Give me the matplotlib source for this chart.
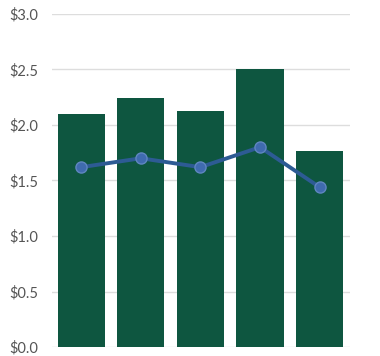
import matplotlib
matplotlib.use("Agg")
import matplotlib.pyplot as plt
from matplotlib.ticker import FuncFormatter

categories = ["A", "B", "C", "D", "E"]
bar_values = [2.10, 2.24, 2.13, 2.50, 1.77]
line_values = [1.62, 1.70, 1.62, 1.80, 1.44]
y_ticks = [0.0, 0.5, 1.0, 1.5, 2.0, 2.5, 3.0]

plt.rcParams['font.family'] = ['Lato', 'DejaVu Sans']

fig = plt.figure(figsize=(3.8, 3.56), dpi=100)
ax = fig.add_axes([0.137, 0.025, 0.784, 0.936])

x = range(len(categories))
ax.bar(x, bar_values, width=0.79, color="#0E5640", zorder=2)
ax.plot(x, line_values, color="#2D5B94", linewidth=2.8, zorder=3,
        marker="o", markersize=8, markerfacecolor="#3F6BAF",
        markeredgecolor="#5F86C0", markeredgewidth=1)

ax.set_xlim(-0.49, 4.51)
ax.set_ylim(0, 3.0)
ax.set_yticks(y_ticks)
ax.yaxis.set_major_formatter(FuncFormatter(lambda v, p: f"${v:.1f}"))
ax.set_xticks([])
ax.grid(axis="y", color="#DDDDDD", linewidth=1, zorder=0)
ax.tick_params(axis="y", length=0, labelsize=10.5, labelcolor="#555555", pad=10)
for s in ax.spines.values():
    s.set_visible(False)

fig.savefig("out.png", dpi=100)
